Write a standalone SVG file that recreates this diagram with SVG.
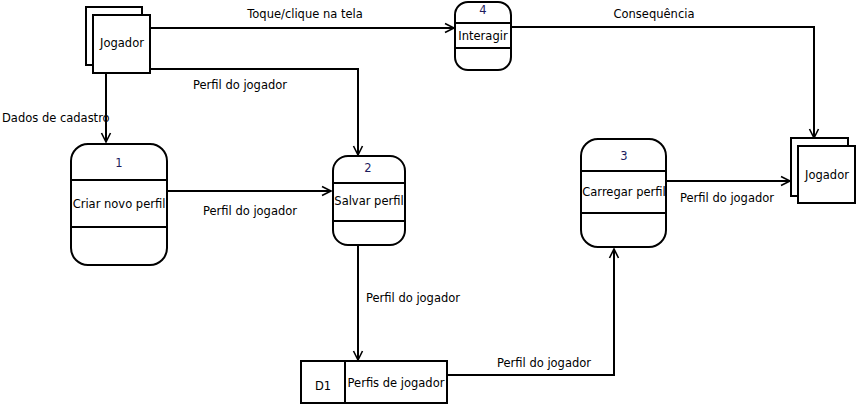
<svg xmlns="http://www.w3.org/2000/svg" width="858" height="408" viewBox="0 0 858 408">
<style>
.bg{fill:#fff}
.box{fill:#fff;stroke:#000;stroke-width:2}
.ln{fill:none;stroke:#000;stroke-width:2}
.t{font-family:"DejaVu Sans",Verdana,sans-serif;font-size:11.5px;fill:#000}
.c{text-anchor:middle}
.n{fill:#1c1c5e}
.e{fill:none;stroke:#000;stroke-width:2;marker-end:url(#arr)}
</style>
<defs>
<marker id="arr" markerUnits="userSpaceOnUse" markerWidth="12" markerHeight="12" refX="10" refY="5" orient="auto" viewBox="0 0 12 10">
<path d="M1,0.5 L10,5 L1,9.5" fill="none" stroke="#000" stroke-width="1.6"/>
</marker>
</defs>
<rect class="bg" x="0" y="0" width="858" height="408"/>

<g id="connectors">
<path class="e" d="M150,28 L454,28"/>
<text class="t c" x="305" y="18">Toque/clique na tela</text>
<path class="e" d="M511,27 L814,27 L814,138"/>
<text class="t c" x="654" y="18">Consequência</text>
<path class="e" d="M150,69 L358,69 L358,155"/>
<text class="t c" x="240" y="89">Perfil do jogador</text>
<path class="e" d="M106,73 L106,142"/>
<text class="t" x="2" y="122">Dados de cadastro</text>
<path class="e" d="M167,191 L331,191"/>
<text class="t c" x="250" y="215">Perfil do jogador</text>
<path class="e" d="M358,245 L358,360"/>
<text class="t c" x="413" y="302">Perfil do jogador</text>
<path class="e" d="M447,375 L614,375 L614,249"/>
<text class="t c" x="544" y="367">Perfil do jogador</text>
<path class="e" d="M666,181 L790,181"/>
<text class="t c" x="727" y="202">Perfil do jogador</text>
</g>

<g id="jogador1">
<rect class="box" x="86" y="7" width="56" height="58"/>
<rect class="box" x="93" y="15" width="57" height="58"/>
<text class="t c" x="122" y="47">Jogador</text>
</g>

<g id="p4">
<rect class="box" x="455" y="2" width="56" height="68" rx="13" ry="13"/>
<line class="ln" x1="455" y1="23" x2="511" y2="23"/>
<line class="ln" x1="455" y1="48" x2="511" y2="48"/>
<text class="t c n" x="483" y="14">4</text>
<text class="t c" x="483" y="40">Interagir</text>
</g>

<g id="p1">
<rect class="box" x="71" y="144" width="96" height="121" rx="17" ry="17"/>
<line class="ln" x1="71" y1="180" x2="167" y2="180"/>
<line class="ln" x1="71" y1="227" x2="167" y2="227"/>
<text class="t c n" x="119" y="167">1</text>
<text class="t c" x="119" y="208">Criar novo perfil</text>
</g>

<g id="p2">
<rect class="box" x="333" y="156" width="72" height="89" rx="15" ry="15"/>
<line class="ln" x1="333" y1="183" x2="405" y2="183"/>
<line class="ln" x1="333" y1="221" x2="405" y2="221"/>
<text class="t c n" x="368" y="172">2</text>
<text class="t c" x="369" y="205">Salvar perfil</text>
</g>

<g id="p3">
<rect class="box" x="581" y="139" width="85" height="108" rx="17" ry="17"/>
<line class="ln" x1="581" y1="171" x2="666" y2="171"/>
<line class="ln" x1="581" y1="213" x2="666" y2="213"/>
<text class="t c n" x="624" y="160">3</text>
<text class="t c" x="624" y="196">Carregar perfil</text>
</g>

<g id="jogador2">
<rect class="box" x="791" y="138" width="57" height="58"/>
<rect class="box" x="798" y="146" width="57" height="57"/>
<text class="t c" x="827" y="179">Jogador</text>
</g>

<g id="d1">
<rect class="box" x="301" y="361" width="146" height="42"/>
<line class="ln" x1="345" y1="361" x2="345" y2="403"/>
<text class="t c" x="323" y="390">D1</text>
<text class="t c" x="396" y="387">Perfis de jogador</text>
</g>
</svg>
